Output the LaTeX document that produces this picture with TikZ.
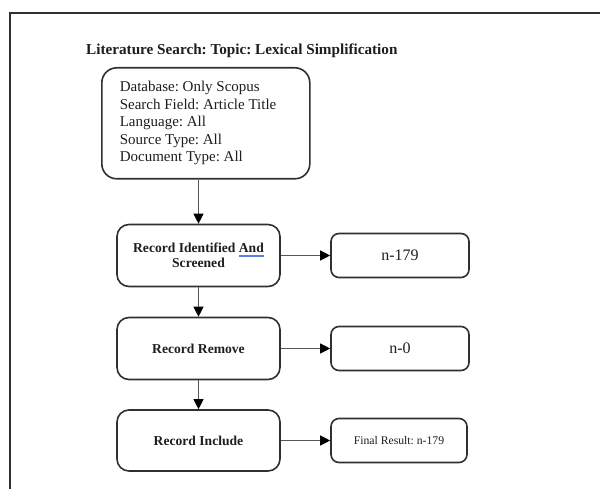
\documentclass[tikz,border=0pt]{standalone}
\usepackage{fontspec}
\setmainfont{Liberation Serif}
\frenchspacing
\usetikzlibrary{arrows.meta,positioning}
\definecolor{edge}{HTML}{303030}
\definecolor{wire}{HTML}{555555}
\definecolor{ink}{HTML}{1E1E1E}
\definecolor{spell}{HTML}{5B7FE6}
% spell-check style double mark under a word
\newsavebox\markbox
\newcommand\spellmark[1]{\sbox\markbox{#1}%
  \rlap{\textcolor{spell}{\rule[-2.6pt]{\wd\markbox}{0.6pt}}}%
  \rlap{\textcolor{spell}{\rule[-4pt]{\wd\markbox}{0.6pt}}}%
  \usebox\markbox}
\tikzset{
  stage/.style={draw=edge, line width=1.6pt, rounded corners=12pt, fill=white,
    minimum width=163pt, minimum height=62pt, align=center, text=ink,
    font=\fontsize{13.6}{15}\selectfont\bfseries, inner sep=2pt},
  result/.style={draw=edge, line width=1.6pt, rounded corners=8pt, fill=white,
    minimum width=138pt, minimum height=44pt, align=center, text=ink,
    font=\fontsize{16}{18}\selectfont, inner sep=2pt},
  flow/.style={draw=wire, line width=1pt,
    -{Triangle[length=10pt,width=10pt,fill=black,color=black]}},
}
\begin{document}
\begin{tikzpicture}[x=1pt,y=-1pt]
  \useasboundingbox (0,0) rectangle (600,489);
  % outer frame (runs past the page on the right and bottom)
  \draw[edge, line width=1.8pt] (10,495) -- (10,13) -- (606,13);

  % heading
  \node[anchor=base west, inner sep=0pt, text=ink,
        font=\fontsize{15.2}{17}\selectfont\bfseries] (title) at (86,55)
    {Literature Search: Topic: Lexical Simplification};

  % search criteria
  \node[draw=edge, line width=1.6pt, rounded corners=15pt, fill=white,
        anchor=north west, text width=172pt, inner xsep=18pt, inner ysep=0pt,
        minimum height=111pt, align=flush left, text=ink,
        font=\fontsize{15}{17.5}\selectfont] (criteria) at (101,67)
    {Database: Only Scopus\\
     Search Field: Article Title\\
     Language: All\\
     Source Type: All\\
     Document Type: All};

  % main stages
  \node[stage] (ident) at (198.5,255.5)
    {Record Identified \spellmark{And}\\Screened};
  \node[stage] (remove) at (198.5,348.5) {Record Remove};
  \node[stage, minimum height=61pt] (include) at (198.5,440.5) {Record Include};

  % counts
  \node[result] (n179) at (400,255.5) {n-179};
  \node[result] (n0) at (400,348.5) {n-0};
  \node[result, minimum width=136pt, font=\fontsize{11.7}{13}\selectfont]
    (final) at (399,440.5) {Final Result: n-179};

  % connectors
  \draw[flow] (criteria.south -| ident.north) -- (ident.north);
  \draw[flow] (ident) -- (remove);
  \draw[flow] (remove) -- (include);
  \draw[flow] (ident) -- (n179);
  \draw[flow] (remove) -- (n0);
  \draw[flow] (include) -- (final);
\end{tikzpicture}
\end{document}
